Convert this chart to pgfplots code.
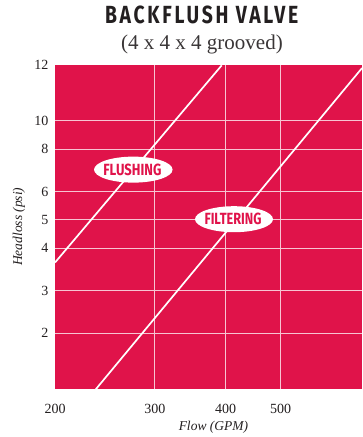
\documentclass[border=0pt]{standalone}
\usepackage{fontspec}
\setmainfont{Liberation Serif}
\newfontfamily\labelfont{Fira Sans}
\newfontfamily\titlefont[LetterSpace=14]{Fira Sans}
\usepackage{graphicx}
\usepackage{pgfplots}
\pgfplotsset{compat=1.18}
\usetikzlibrary{shapes.geometric}
\definecolor{crimson}{HTML}{E0134A}
\definecolor{ink}{HTML}{231F20}

% the headloss scale of the original is not a true log scale:
% map psi -> pt from the bottom edge, piece by piece
\newcommand\hltrafo[1]{%
  \begingroup
  \pgfkeys{/pgf/fpu=true,/pgf/fpu/output format=fixed}%
  \pgfmathparse{(#1<2) ? 56*(#1-1) : ((#1<3) ? 56+42.3*(#1-2) : ((#1<4) ? 98.3+42.7*(#1-3) : ((#1<5) ? 141+28.3*(#1-4) : ((#1<6) ? 169.3+28.3*(#1-5) : ((#1<8) ? 197.6+21.2*(#1-6) : ((#1<10) ? 240+14.15*(#1-8) : 268.3+27.65*(#1-10)))))))}%
  \xdef\hlresult{\pgfmathresult}%
  \endgroup
  \let\pgfmathresult\hlresult}
\newcommand\hlinv[1]{%
  \begingroup
  \pgfkeys{/pgf/fpu=true,/pgf/fpu/output format=fixed}%
  \pgfmathparse{(#1<56) ? 1+#1/56 : ((#1<98.3) ? 2+(#1-56)/42.3 : ((#1<141) ? 3+(#1-98.3)/42.7 : ((#1<169.3) ? 4+(#1-141)/28.3 : ((#1<197.6) ? 5+(#1-169.3)/28.3 : ((#1<240) ? 6+(#1-197.6)/21.2 : ((#1<268.3) ? 8+(#1-240)/14.15 : 10+(#1-268.3)/27.65))))))}%
  \xdef\hlresult{\pgfmathresult}%
  \endgroup
  \let\pgfmathresult\hlresult}

\begin{document}
\begin{tikzpicture}
\begin{axis}[
  at={(0,0)}, anchor=south west,
  scale only axis,
  width=307pt, height=324pt,
  xmode=log,
  xmin=200, xmax=696,
  ymin=1, ymax=12,
  y coord trafo/.code={\hltrafo{#1}},
  y coord inv trafo/.code={\hlinv{#1}},
  axis background/.style={fill=crimson},
  axis line style={draw=none},
  major tick length=0pt,
  grid=major,
  major grid style={draw=crimson!25!white, line width=0.85pt},
  xtick={300,400,500},
  xticklabels={300,400,500},
  extra x ticks={200},
  extra x tick labels={200},
  extra x tick style={grid=none},
  ytick={2,3,4,5,6,8,10},
  yticklabels={2,3,4,5,6,8,10},
  extra y ticks={12},
  extra y tick labels={12},
  extra y tick style={grid=none},
  xticklabel style={font=\fontsize{14}{16}\selectfont, text=ink,
    anchor=base, inner sep=0pt, yshift=-23.7pt},
  yticklabel style={font=\fontsize{14}{16}\selectfont, text=ink,
    anchor=east, inner sep=0pt, xshift=-6.5pt},
  xlabel={Flow (GPM)},
  xlabel style={at={(axis description cs:0.516,0)}, anchor=base,
    yshift=-40.7pt, inner sep=0pt, text=ink,
    font=\itshape\fontsize{13.5}{15}\selectfont},
]
% flushing
\addplot[white, line width=1.7pt] coordinates {(200,3.663) (393.7,12)};
% filtering
\addplot[white, line width=1.7pt] coordinates {(236,1) (696,11.9)};

\node[ellipse, fill=white, minimum width=78.5pt, minimum height=26pt, inner sep=0pt]
  at (rel axis cs:0.255,0.678) {};
\node[inner sep=0pt, text=crimson] at (rel axis cs:0.252,0.678)
  {\resizebox{58pt}{11.5pt}{\labelfont\bfseries FLUSHING}};
\node[ellipse, fill=white, minimum width=78pt, minimum height=26pt, inner sep=0pt]
  at (rel axis cs:0.583,0.525) {};
\node[inner sep=0pt, text=crimson] at (rel axis cs:0.580,0.525)
  {\resizebox{57pt}{11.5pt}{\labelfont\bfseries FILTERING}};
\end{axis}

\node[rotate=90, anchor=base, inner sep=0pt, text=ink,
  font=\itshape\fontsize{13.5}{15}\selectfont] at (-33pt,162.6pt) {Headloss (psi)};
\node[anchor=base, inner sep=0pt, text=ink] at (146.7pt,366pt)
  {\resizebox{193pt}{17.6pt}{\titlefont\bfseries BACKFLUSH VALVE}};
\node[anchor=base, inner sep=0pt, text=ink!90!white,
  font=\fontsize{21}{24}\selectfont] at (147pt,339.3pt) {(4 x 4 x 4 grooved)};

\pgfresetboundingbox
\useasboundingbox (-55pt,-47.7pt) rectangle (307pt,389.3pt);
\end{tikzpicture}
\end{document}
